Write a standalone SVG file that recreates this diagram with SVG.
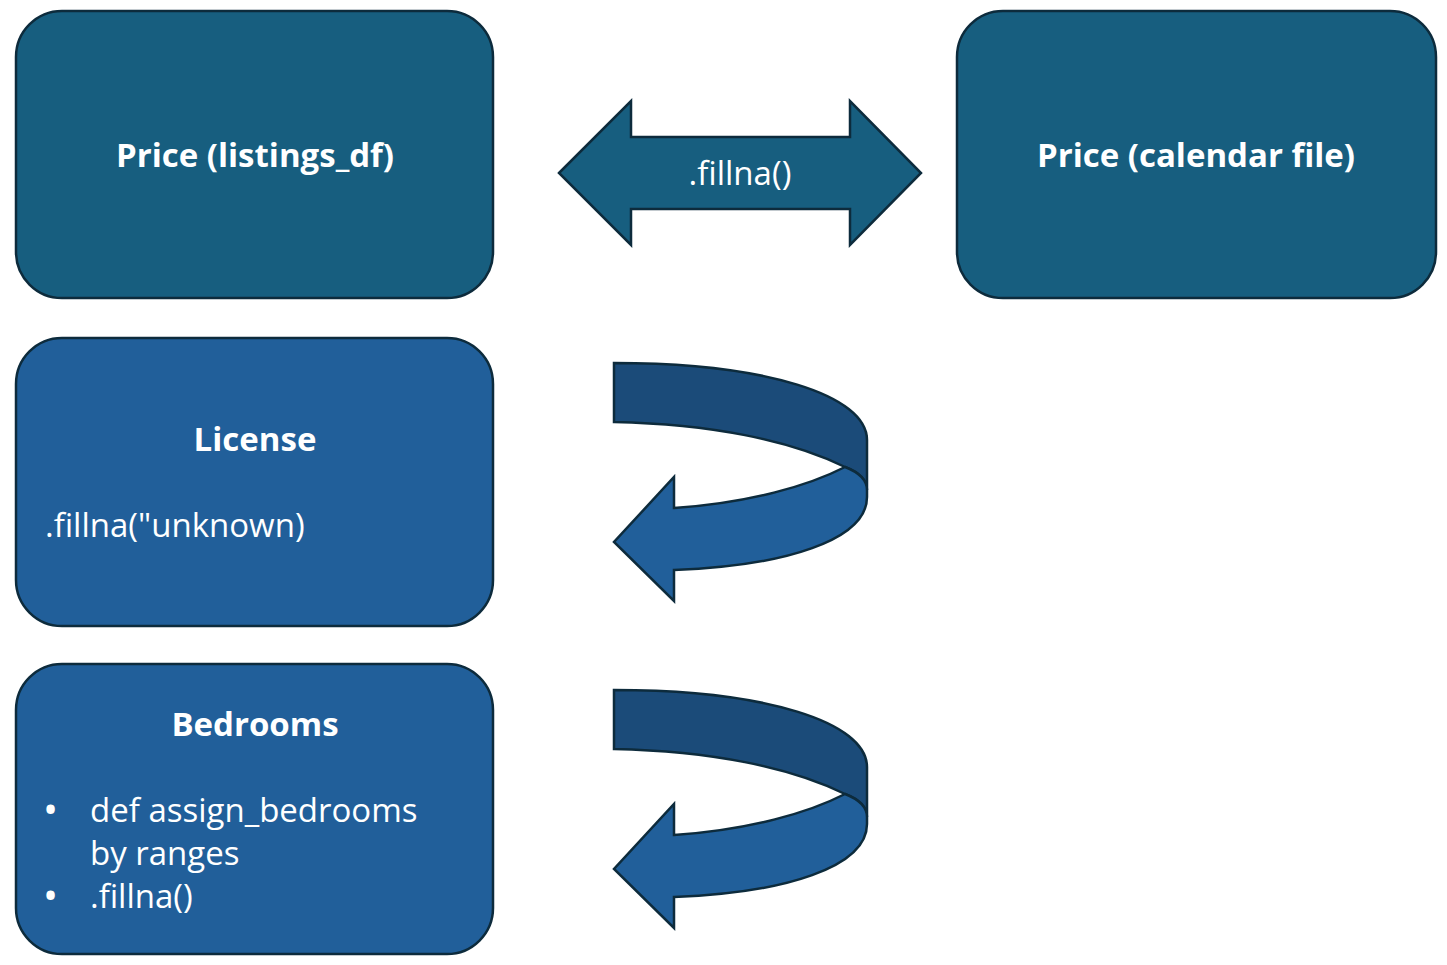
<svg xmlns="http://www.w3.org/2000/svg" width="1447" height="965" viewBox="0 0 1447 965">
<style>
.box{stroke:#0d2b3c;stroke-width:2.5}
.teal{fill:#175e7f}
.blue{fill:#215f9a}
.dark{fill:#1b4b79}
.arr{stroke:#0d2b3c;stroke-width:2.5;stroke-linejoin:miter}
text{font-family:"Open Sans","Liberation Sans",Arial,sans-serif;fill:#ffffff}
.b{font-weight:bold;font-size:33px}
.r{font-size:33px}
.bul{font-size:40px}
</style>
<rect width="1447" height="965" fill="#ffffff"/>
<g id="node-price-listings">
<rect class="box teal" x="16" y="11" width="477" height="287" rx="46"/>
<text class="b" x="255" y="167" text-anchor="middle">Price (listings_df)</text>
</g>
<g id="node-price-calendar">
<rect class="box teal" x="957" y="11" width="479" height="287" rx="46"/>
<text class="b" x="1196" y="167" text-anchor="middle">Price (calendar file)</text>
</g>
<g id="node-license">
<rect class="box blue" x="16" y="338" width="477" height="288" rx="46"/>
<text class="b" x="255" y="451" text-anchor="middle">License</text>
<text class="r" x="45" y="537">.fillna("unknown)</text>
</g>
<g id="node-bedrooms">
<rect class="box blue" x="16" y="664" width="477" height="290" rx="46"/>
<text class="b" x="255" y="736" text-anchor="middle">Bedrooms</text>
<text class="bul" x="43" y="824">•</text>
<text class="r" x="90" y="822">def assign_bedrooms</text>
<text class="r" x="90" y="865">by ranges</text>
<text class="bul" x="43" y="910">•</text>
<text class="r" x="90" y="908">.fillna()</text>
</g>
<g id="connectors">
<g id="double-arrow">
<path class="arr teal" d="M559,173 L631,101 L631,137 L850,137 L850,101 L921,173 L850,245 L850,209 L631,209 L631,245 Z"/>
<text class="r" x="740" y="185" text-anchor="middle" style="font-size:33px">.fillna()</text>
</g>
<g id="curved-arrow-1">
<path class="arr dark" d="M614,363 C765,363 867,395 867,440 L867,490 C867,480 858,472 845,467 C790,440 710,424 614,422 Z"/>
<path class="arr blue" d="M845,467 C810,485 750,503 674,508 L674,477 L614,542 L674,601 L674,570 C785,566 867,540 867,497 L867,490 C867,480 858,472 845,467 Z"/>
</g>
<g id="curved-arrow-2" transform="translate(0,327)">
<path class="arr dark" d="M614,363 C765,363 867,395 867,440 L867,490 C867,480 858,472 845,467 C790,440 710,424 614,422 Z"/>
<path class="arr blue" d="M845,467 C810,485 750,503 674,508 L674,477 L614,542 L674,601 L674,570 C785,566 867,540 867,497 L867,490 C867,480 858,472 845,467 Z"/>
</g>
</g>
</svg>
